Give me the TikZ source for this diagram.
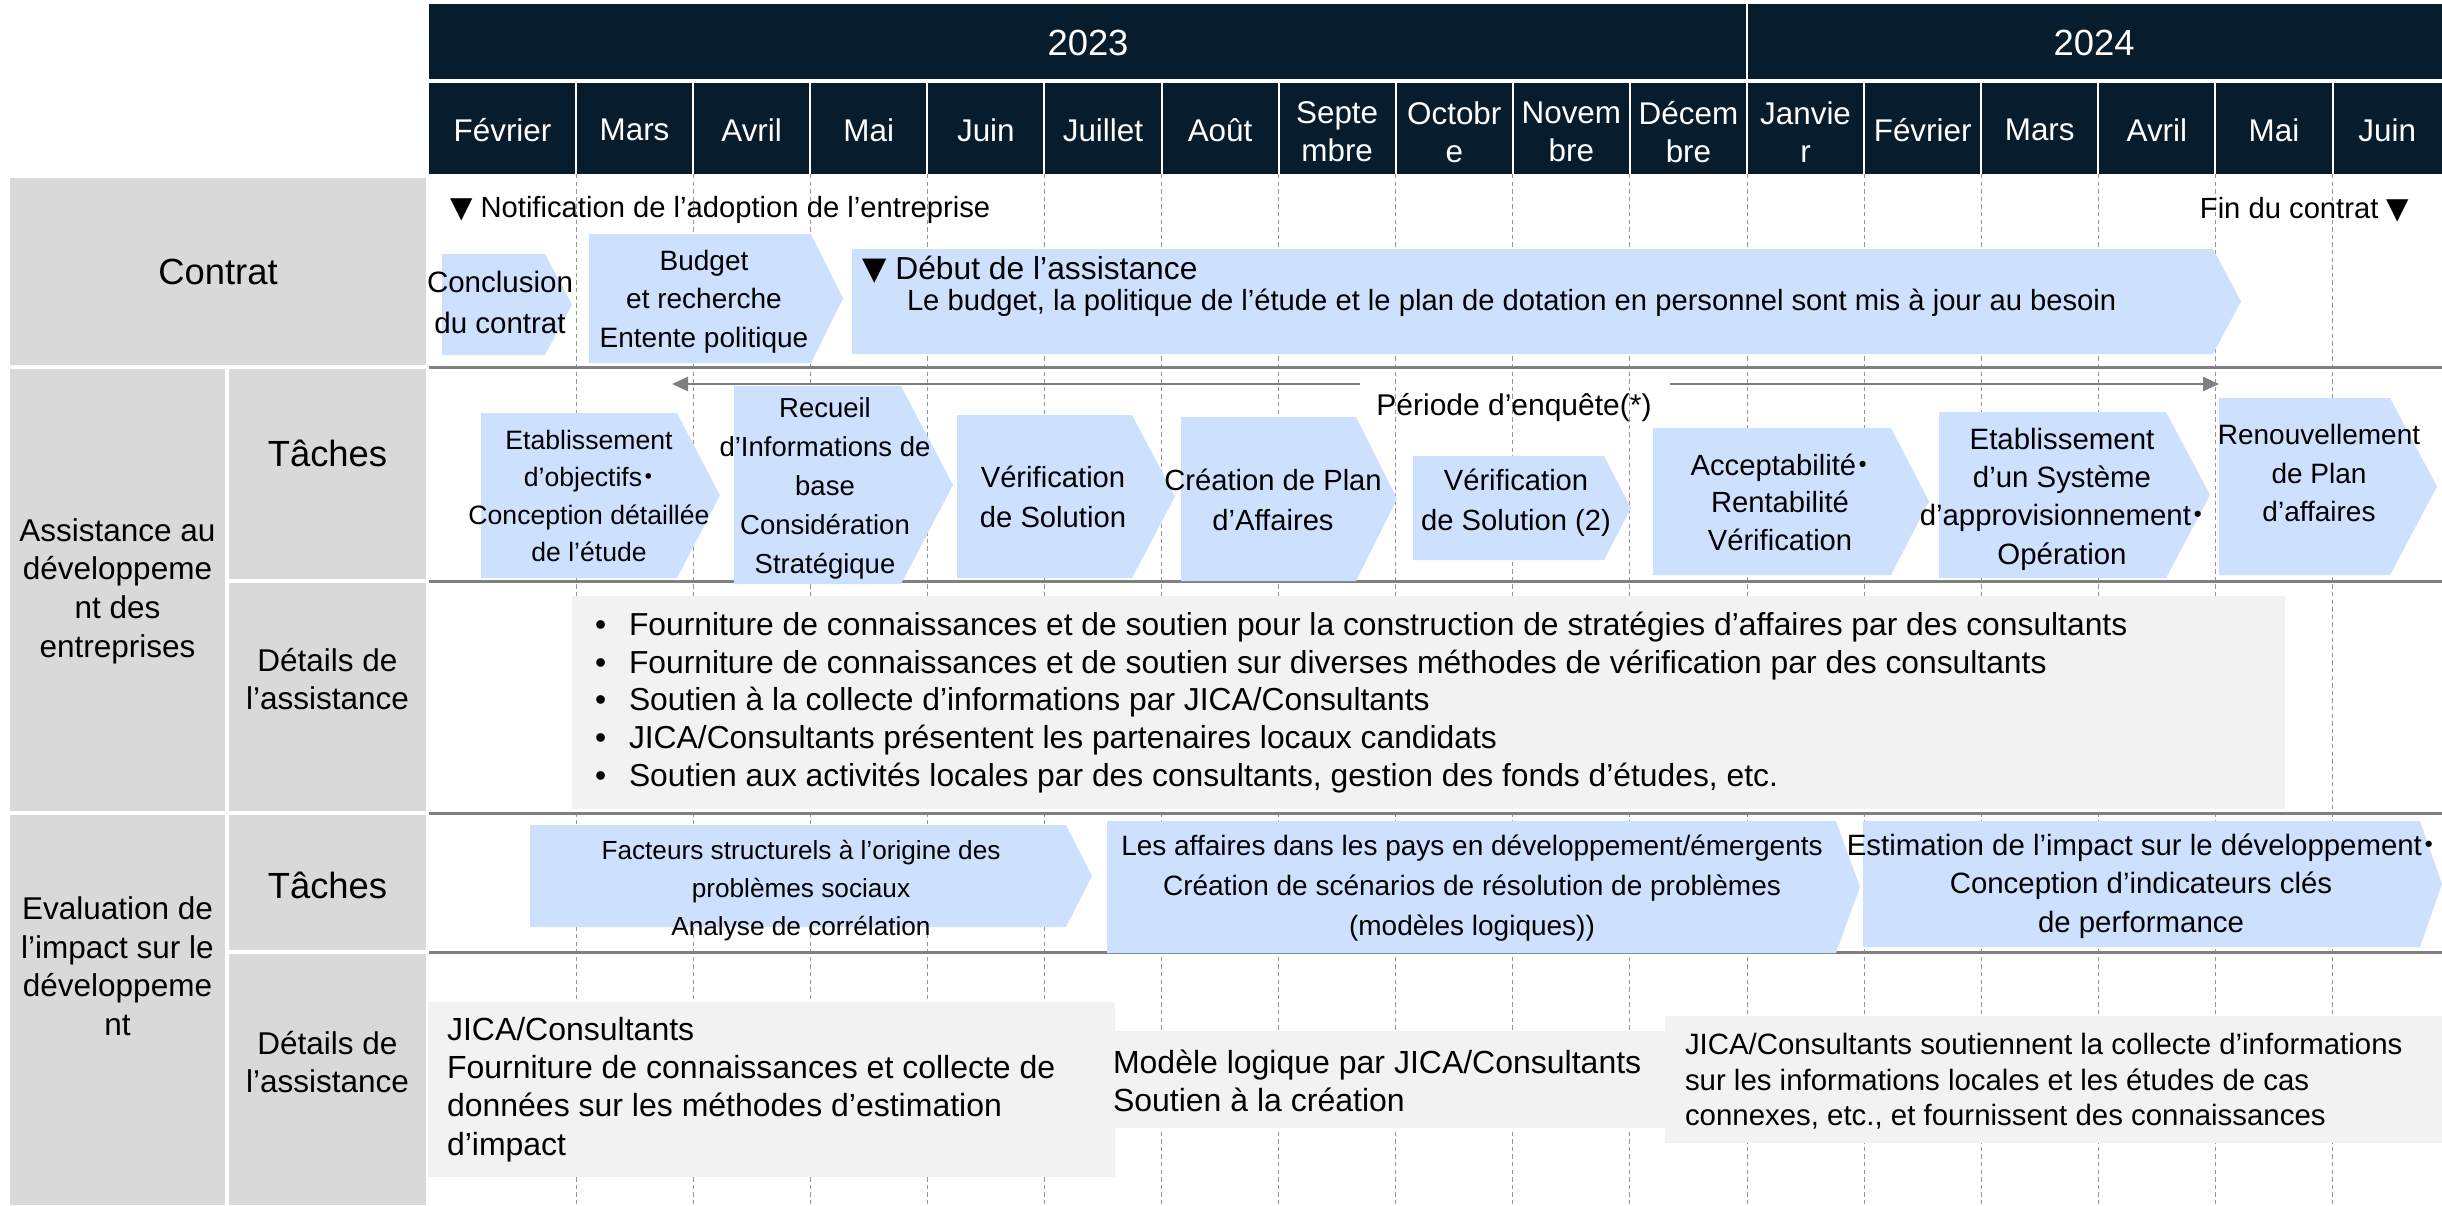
\documentclass[tikz,border=0pt]{standalone}
\usepackage{fontspec}
\setmainfont{Liberation Sans}
\newfontfamily\symfont{DejaVu Sans}
\newfontfamily\cjkfont{Noto Sans CJK JP}
\usetikzlibrary{arrows.meta}
\definecolor{hdr}{RGB}{7,29,46}
\definecolor{lblgrey}{RGB}{217,217,217}
\definecolor{arrowblue}{RGB}{205,225,255}
\definecolor{detgrey}{RGB}{242,242,242}
\definecolor{rulegrey}{RGB}{128,128,128}
\definecolor{dashgrey}{RGB}{150,150,150}
\newcommand\tri{{\symfont ▼}}
\newcommand\nkg{\kern-.25em{\cjkfont ・}\kern-.3em}
\newcommand\fs[2]{\fontsize{#1}{#2}\selectfont}
\newcommand\chev[6]{% name x0 xbody xtip ytop ybottom
  \fill[arrowblue] (#2,#5) -- (#3,#5) -- (#4,{(#5+#6)/2}) -- (#3,#6) -- (#2,#6) -- cycle;
  \coordinate (#1) at ({(#2+#4)/2},{(#5+#6)/2});
}
\tikzset{
  x=0.5pt, y=-0.5pt,
  every node/.style={inner sep=0pt, outer sep=0pt},
  hdrtext/.style={text=white, align=center, font=\fs{15.7}{19}},
  yeartext/.style={text=white, font=\fs{18.2}{22}},
  lbl/.style={align=center, font=\fs{15.75}{19.3}},
  biglbl/.style={font=\fs{18.2}{22}},
  sectline/.style={draw=rulegrey, line width=1.5pt},
  monthline/.style={draw=dashgrey, line width=0.5pt, dash pattern=on 2.2pt off 1.6pt},
  periodarrow/.style={draw=rulegrey, line width=1.2pt, -{Triangle[length=8pt,width=7pt]}},
}
\begin{document}
\begin{tikzpicture}
\fill[white] (0,0) rectangle (2442,1205);
\useasboundingbox (0,0) rectangle (2442,1205);

% left label boxes
\fill[lblgrey] (10,178) rectangle (426,365);
\fill[lblgrey] (10,369) rectangle (225,811);
\fill[lblgrey] (229,369) rectangle (426,579);
\fill[lblgrey] (229,583) rectangle (426,811);
\fill[lblgrey] (10,815) rectangle (225,1205);
\fill[lblgrey] (229,815) rectangle (426,950);
\fill[lblgrey] (229,954) rectangle (426,1205);

% header
\fill[hdr] (429,4) rectangle (2442,174);
\draw[white, line width=2pt] (429,81) -- (2442,81);
\draw[white, line width=1pt] (1747,4) -- (1747,81);
\foreach \i in {0,...,15} \draw[white, line width=1pt] ({576+117.1*\i},81) -- ({576+117.1*\i},174);

% month grid lines
\foreach \i in {0,...,15} \draw[monthline] ({576+117.1*\i},174) -- ({576+117.1*\i},1205);

% section lines
\foreach \y in {367,581,813,952} \draw[sectline] (429,\y) -- (2442,\y);

% detail boxes
\fill[detgrey] (572,596) rectangle (2285,809);
\fill[detgrey] (428,1002) rectangle (1115,1177);
\fill[detgrey] (1115,1031) rectangle (1665,1128);
\fill[detgrey] (1665,1016) rectangle (2442,1143);

% contract arrows
\chev{cA}{442}{545}{572}{254}{355}
\chev{cB}{589}{811}{843}{234}{363}
\chev{cC}{852}{2213}{2241}{249}{354}

% assistance task arrows
\chev{t1}{481}{677}{720}{413}{578}
\chev{t2}{734}{901}{953}{386}{584}
\chev{t3}{957}{1132}{1175}{415}{578}
\chev{t4}{1181}{1356}{1397}{417}{581}
\chev{t5}{1413}{1604}{1631}{456}{560}
\chev{t6}{1653}{1891}{1929}{428}{575}
\chev{t7}{1939}{2166}{2210}{412}{578}
\chev{t8}{2219}{2390}{2437}{398}{575}

% evaluation task arrows
\chev{e1}{530}{1066}{1092}{825}{927}
\chev{e2}{1107}{1836}{1860}{821}{953}
\chev{e3}{1863}{2420}{2442}{821}{947}

% survey period arrow
\coordinate (pL1) at (1360,384);
\coordinate (pL2) at (672,384);
\coordinate (pR1) at (1670,384);
\coordinate (pR2) at (2219,384);
\draw[periodarrow] (pL1) -- (pL2);
\draw[periodarrow] (pR1) -- (pR2);
\node[font=\fs{15}{18}] (period) at (1514,408) {Période d’enquête(*)};

% header texts
\node[yeartext] (y2023) at (1088,43) {2023};
\node[yeartext] (y2024) at (2094,43) {2024};
\node[hdrtext] (m1) at (502.5,130) {Février};
\node[hdrtext] (m2) at (634.55,130) {Mars};
\node[hdrtext] (m3) at (751.65,130) {Avril};
\node[hdrtext] (m4) at (868.75,130) {Mai};
\node[hdrtext] (m5) at (985.85,130) {Juin};
\node[hdrtext] (m6) at (1102.95,130) {Juillet};
\node[hdrtext] (m7) at (1220.05,130) {Août};
\node[hdrtext] (m8) at (1337.15,132) {Septe\\mbre};
\node[hdrtext] (m9) at (1454.25,132) {Octobr\\e};
\node[hdrtext] (m10) at (1571.35,132) {Novem\\bre};
\node[hdrtext] (m11) at (1688.45,132) {Décem\\bre};
\node[hdrtext] (m12) at (1805.55,132) {Janvie\\r};
\node[hdrtext] (m13) at (1922.65,130) {Février};
\node[hdrtext] (m14) at (2039.75,130) {Mars};
\node[hdrtext] (m15) at (2156.85,130) {Avril};
\node[hdrtext] (m16) at (2273.95,130) {Mai};
\node[hdrtext] (m17) at (2387.25,130) {Juin};

% left labels
\node[biglbl] (lContrat) at (218,272) {Contrat};
\node[lbl] (lAssist) at (117.5,591) {Assistance au\\développeme\\nt des\\entreprises};
\node[biglbl] (lTachesA) at (327.5,453) {Tâches};
\node[lbl] (lDetA) at (327.5,679) {Détails de\\l’assistance};
\node[lbl] (lEval) at (117.5,966) {Evaluation de\\l’impact sur le\\développeme\\nt};
\node[biglbl] (lTachesE) at (327.5,885) {Tâches};
\node[lbl] (lDetE) at (327.5,1062) {Détails de\\l’assistance};

% contract texts
\node[anchor=west, font=\fs{14.6}{18}] (notif) at (450,210) {\tri\ Notification de l’adoption de l’entreprise};
\node[anchor=east, font=\fs{14.6}{18}] (fin) at (2409,210) {Fin du contrat \tri};
\node[align=center, font=\fs{14.75}{20.5}] (tcA) at (500,302.5) {Conclusion\\du contrat};
\node[align=center, font=\fs{14}{19.2}] (tcB) at (704,301.5) {Budget\\et recherche\\Entente politique};
\node[anchor=west, font=\fs{15.9}{19}] (tcC1) at (862,270) {\tri\ Début de l’assistance};
\node[anchor=west, font=\fs{14.6}{18}] (tcC2) at (907,303) {Le budget, la politique de l’étude et le plan de dotation en personnel sont mis à jour au besoin};

% assistance task texts
\node[align=center, font=\fs{13.3}{18.6}] (tt1) at (589,496) {Etablissement\\d’objectifs\nkg\\Conception détaillée\\de l’étude};
\node[align=center, font=\fs{13.75}{19.5}] (tt2) at (825,488) {Recueil\\d’Informations de\\base\\Considération\\Stratégique};
\node[align=center, font=\fs{14.6}{20}] (tt3) at (1053,497) {Vérification\\de Solution};
\node[align=center, font=\fs{14.6}{20}] (tt4) at (1273,500) {Création de Plan\\d’Affaires};
\node[align=center, font=\fs{14.6}{20}] (tt5) at (1516,503) {Vérification\\de Solution (2)};
\node[align=center, font=\fs{14.6}{18.75}] (tt6) at (1780,502) {Acceptabilité\nkg\\Rentabilité\\Vérification};
\node[align=center, font=\fs{14.7}{19.2}] (tt7) at (2062,499) {Etablissement\\d’un Système\\d’approvisionnement\nkg\\Opération};
\node[align=center, font=\fs{14}{19.2}] (tt8) at (2319,473) {Renouvellement\\de Plan\\d’affaires};

% assistance details
\node[anchor=west, align=left, font=\fs{15.9}{18.9}] (dA) at (595,702.5) {%
\makebox[17pt][l]{•}Fourniture de connaissances et de soutien pour la construction de stratégies d’affaires par des consultants\\
\makebox[17pt][l]{•}Fourniture de connaissances et de soutien sur diverses méthodes de vérification par des consultants\\
\makebox[17pt][l]{•}Soutien à la collecte d’informations par JICA/Consultants\\
\makebox[17pt][l]{•}JICA/Consultants présentent les partenaires locaux candidats\\
\makebox[17pt][l]{•}Soutien aux activités locales par des consultants, gestion des fonds d’études, etc.};

% evaluation task texts
\node[align=center, font=\fs{13.1}{19}] (te1) at (801,891) {Facteurs structurels à l’origine des\\problèmes sociaux\\Analyse de corrélation};
\node[align=center, font=\fs{14}{20}] (te2) at (1472,888) {Les affaires dans les pays en développement/émergents\\Création de scénarios de résolution de problèmes\\(modèles logiques))};
\node[align=center, font=\fs{14.7}{19.2}] (te3) at (2141,886) {Estimation de l’impact sur le développement\nkg\\Conception d’indicateurs clés\\de performance};

% evaluation details
\node[anchor=west, align=left, font=\fs{16}{19.2}] (dE1) at (447,1089.5) {JICA/Consultants\\Fourniture de connaissances et collecte de\\données sur les méthodes d’estimation\\d’impact};
\node[anchor=west, align=left, font=\fs{16}{19}] (dE2) at (1113,1081) {Modèle logique par JICA/Consultants\\Soutien à la création};
\node[anchor=west, align=left, font=\fs{14.7}{17.75}] (dE3) at (1685,1081.5) {JICA/Consultants soutiennent la collecte d’informations\\sur les informations locales et les études de cas\\connexes, etc., et fournissent des connaissances};
\end{tikzpicture}
\end{document}
